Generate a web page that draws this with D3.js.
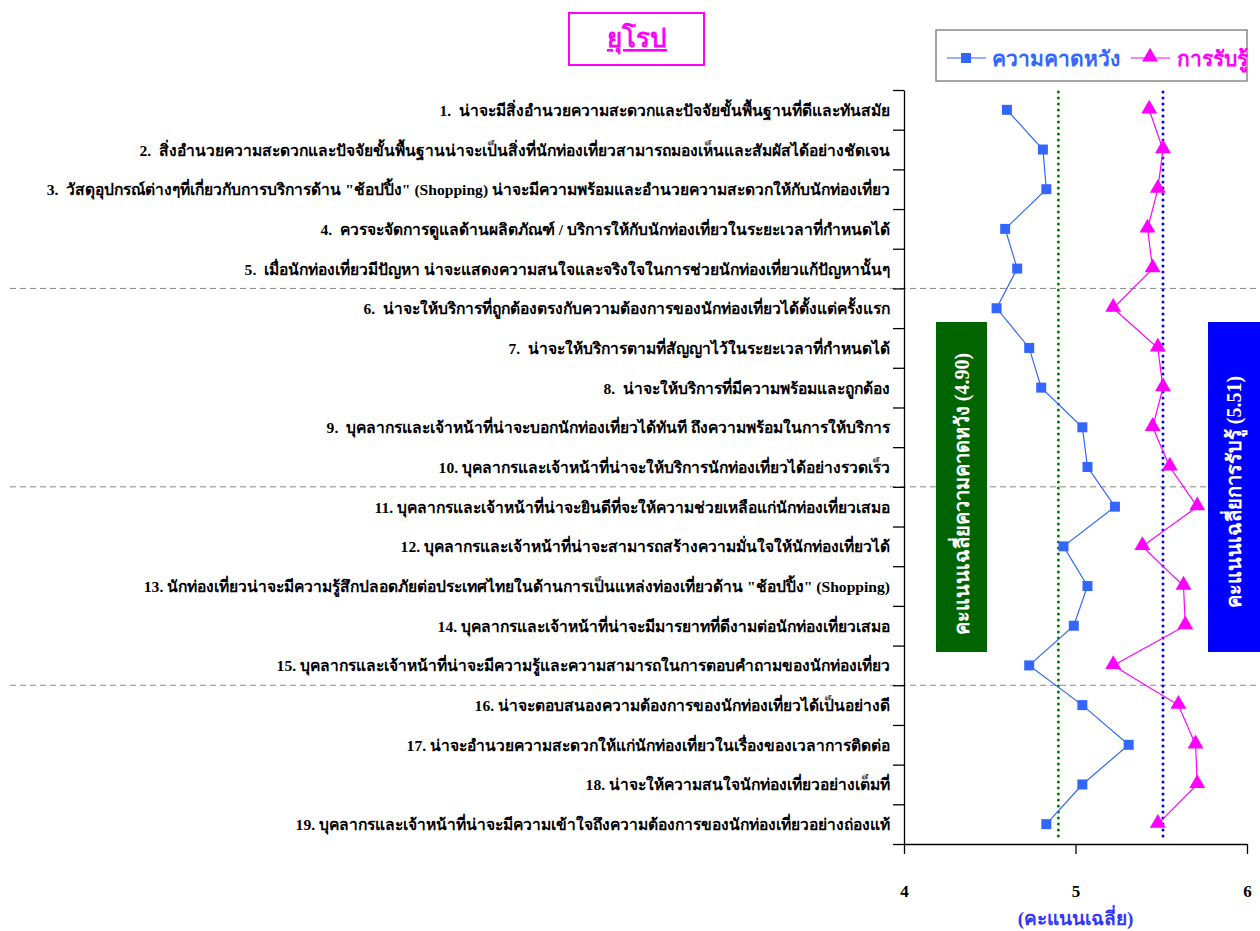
<!DOCTYPE html>
<html>
<head>
<meta charset="utf-8">
<script src="https://cdn.jsdelivr.net/npm/d3@7"></script>
<style>
  html, body { margin: 0; padding: 0; background: #fff; }
  svg text { font-family: "Liberation Serif", "DejaVu Serif", serif; }
</style>
</head>
<body>
<svg id="chart" width="1260" height="931"></svg>
<script>
const categories = [
  "1.  น่าจะมีสิ่งอำนวยความสะดวกและปัจจัยขั้นพื้นฐานที่ดีและทันสมัย",
  "2.  สิ่งอำนวยความสะดวกและปัจจัยขั้นพื้นฐานน่าจะเป็นสิ่งที่นักท่องเที่ยวสามารถมองเห็นและสัมผัสได้อย่างชัดเจน",
  "3.  วัสดุอุปกรณ์ต่างๆที่เกี่ยวกับการบริการด้าน \"ช้อปปิ้ง\" (Shopping) น่าจะมีความพร้อมและอำนวยความสะดวกให้กับนักท่องเที่ยว",
  "4.  ควรจะจัดการดูแลด้านผลิตภัณฑ์ / บริการให้กับนักท่องเที่ยวในระยะเวลาที่กำหนดได้",
  "5.  เมื่อนักท่องเที่ยวมีปัญหา น่าจะแสดงความสนใจและจริงใจในการช่วยนักท่องเที่ยวแก้ปัญหานั้นๆ",
  "6.  น่าจะให้บริการที่ถูกต้องตรงกับความต้องการของนักท่องเที่ยวได้ตั้งแต่ครั้งแรก",
  "7.  น่าจะให้บริการตามที่สัญญาไว้ในระยะเวลาที่กำหนดได้",
  "8.  น่าจะให้บริการที่มีความพร้อมและถูกต้อง",
  "9.  บุคลากรและเจ้าหน้าที่น่าจะบอกนักท่องเที่ยวได้ทันที ถึงความพร้อมในการให้บริการ",
  "10. บุคลากรและเจ้าหน้าที่น่าจะให้บริการนักท่องเที่ยวได้อย่างรวดเร็ว",
  "11. บุคลากรและเจ้าหน้าที่น่าจะยินดีที่จะให้ความช่วยเหลือแก่นักท่องเที่ยวเสมอ",
  "12. บุคลากรและเจ้าหน้าที่น่าจะสามารถสร้างความมั่นใจให้นักท่องเที่ยวได้",
  "13. นักท่องเที่ยวน่าจะมีความรู้สึกปลอดภัยต่อประเทศไทยในด้านการเป็นแหล่งท่องเที่ยวด้าน \"ช้อปปิ้ง\" (Shopping)",
  "14. บุคลากรและเจ้าหน้าที่น่าจะมีมารยาทที่ดีงามต่อนักท่องเที่ยวเสมอ",
  "15. บุคลากรและเจ้าหน้าที่น่าจะมีความรู้และความสามารถในการตอบคำถามของนักท่องเที่ยว",
  "16. น่าจะตอบสนองความต้องการของนักท่องเที่ยวได้เป็นอย่างดี",
  "17. น่าจะอำนวยความสะดวกให้แก่นักท่องเที่ยวในเรื่องของเวลาการติดต่อ",
  "18. น่าจะให้ความสนใจนักท่องเที่ยวอย่างเต็มที่",
  "19. บุคลากรและเจ้าหน้าที่น่าจะมีความเข้าใจถึงความต้องการของนักท่องเที่ยวอย่างถ่องแท้"
];
const expectation = [4.60, 4.81, 4.83, 4.59, 4.66, 4.54, 4.73, 4.80, 5.04, 5.07,
                     5.23, 4.93, 5.07, 4.99, 4.73, 5.04, 5.31, 5.04, 4.83];
const perception  = [5.43, 5.51, 5.48, 5.42, 5.45, 5.22, 5.48, 5.51, 5.45, 5.55,
                     5.71, 5.39, 5.63, 5.64, 5.22, 5.60, 5.70, 5.71, 5.48];
const xTicks = [4, 5, 6];
const groupBreaks = [5, 10, 15];
const meanValues = [4.90, 5.51];
const seriesNames = ["ความคาดหวัง", "การรับรู้"];
const meanLabels = ["คะแนนเฉลี่ยความคาดหวัง (4.90)", "คะแนนเฉลี่ยการรับรู้ (5.51)"];
const titleText = "ยุโรป";
const xTitle = "(คะแนนเฉลี่ย)";

const BLUE = "#3366ff", MAGENTA = "#ff00ff";
const svg = d3.select("#chart");

const x = d3.scaleLinear().domain([4, 6]).range([904, 1247]);
const y = d3.scaleBand().domain(d3.range(categories.length)).range([90, 844]);
const yLin = d3.scaleLinear().domain([0, categories.length]).range([90, 844]);
const yc = i => y(i) + y.bandwidth() / 2;

// group separators
svg.append("g").selectAll("line").data(groupBreaks).join("line")
  .attr("x1", 10).attr("x2", 1260)
  .attr("y1", d => yLin(d)).attr("y2", d => yLin(d))
  .attr("stroke", "#888").attr("stroke-width", 1).attr("stroke-dasharray", "6,4");

// y axis (ticks at band boundaries)
const yAxis = svg.append("g").attr("transform", "translate(904,0)")
  .call(d3.axisLeft(yLin).tickValues(d3.range(categories.length + 1)).tickSize(11).tickSizeOuter(0).tickFormat(""));
yAxis.select(".domain").attr("stroke", "#000").attr("stroke-width", 1.3);
yAxis.selectAll(".tick line").attr("stroke", "#000").attr("stroke-width", 1.3);

// x axis
const xAxis = svg.append("g").attr("transform", "translate(0,844)")
  .call(d3.axisBottom(x).tickValues(xTicks).tickSize(10).tickSizeOuter(0).tickFormat(d3.format("d")));
xAxis.select(".domain").attr("stroke", "#000").attr("stroke-width", 1.3);
xAxis.selectAll(".tick line").attr("stroke", "#000").attr("stroke-width", 1.3);
xAxis.selectAll(".tick text").attr("y", 53).attr("dy", 0)
  .attr("font-size", 17).attr("font-weight", "bold").attr("fill", "#000")
  .style("font-family", "'Liberation Serif', serif");

// x title
svg.append("text").attr("x", x(5)).attr("y", 925).attr("text-anchor", "middle")
  .attr("font-size", 19).attr("font-weight", "bold").attr("fill", "#3333ff").text(xTitle);

// category labels
svg.append("g").selectAll("text").data(categories).join("text")
  .attr("x", 890).attr("y", (d, i) => yc(i) + 6)
  .attr("text-anchor", "end").attr("font-size", 15.6).attr("font-weight", "bold")
  .attr("fill", "#000").style("white-space", "pre").text(d => d);

// mean reference lines
const meanColors = ["#008000", "#0000ff"];
svg.append("g").selectAll("line").data(meanValues).join("line")
  .attr("x1", d => x(d)).attr("x2", d => x(d))
  .attr("y1", 92).attr("y2", 840)
  .attr("stroke", (d, i) => meanColors[i]).attr("stroke-width", 3)
  .attr("stroke-dasharray", "0,6").attr("stroke-linecap", "round");

// mean label boxes
const boxX = [936, 1208], boxW = [51, 52], boxFill = ["#006400", "#0000ff"];
const labelCY = [494, 492];
meanLabels.forEach((t, i) => {
  svg.append("rect").attr("x", boxX[i]).attr("y", 322).attr("width", boxW[i]).attr("height", 330)
    .attr("fill", boxFill[i]);
  const cx = boxX[i] + boxW[i] / 2 + 7;
  svg.append("text").attr("transform", `translate(${cx},${labelCY[i]}) rotate(-90)`)
    .attr("text-anchor", "middle").attr("font-size", 20).attr("font-weight", "bold")
    .attr("fill", "#fff").text(t);
});

// series lines
const line = d3.line().x(d => x(d.v)).y(d => yc(d.i));
const toPts = arr => arr.map((v, i) => ({ v, i }));
svg.append("path").datum(toPts(expectation)).attr("d", line)
  .attr("fill", "none").attr("stroke", BLUE).attr("stroke-width", 1.2);
svg.append("path").datum(toPts(perception)).attr("d", line)
  .attr("fill", "none").attr("stroke", MAGENTA).attr("stroke-width", 1.2);

const sq = d3.symbol().type(d3.symbolSquare).size(100);
const tri = d3.symbol().type(d3.symbolTriangle).size(110);
svg.append("g").selectAll("path").data(toPts(expectation)).join("path")
  .attr("transform", d => `translate(${x(d.v)},${yc(d.i)})`).attr("d", sq).attr("fill", BLUE);
svg.append("g").selectAll("path").data(toPts(perception)).join("path")
  .attr("transform", d => `translate(${x(d.v)},${yc(d.i) - 1})`).attr("d", tri).attr("fill", MAGENTA);

// title box
svg.append("rect").attr("x", 569).attr("y", 13).attr("width", 135).attr("height", 52)
  .attr("fill", "#fff").attr("stroke", MAGENTA).attr("stroke-width", 2);
svg.append("text").attr("x", 637).attr("y", 47).attr("text-anchor", "middle")
  .attr("font-size", 26).attr("font-weight", "bold").attr("fill", MAGENTA)
  .attr("text-decoration", "underline").text(titleText);

// legend
const lg = svg.append("g");
lg.append("rect").attr("x", 936).attr("y", 30).attr("width", 311).attr("height", 51)
  .attr("fill", "#fff").attr("stroke", "#888").attr("stroke-width", 1.5);
const legX = [947, 1131], legTextX = [992, 1177], legColors = [BLUE, MAGENTA];
[sq, tri].forEach((sym, i) => {
  lg.append("line").attr("x1", legX[i]).attr("x2", legX[i] + 39).attr("y1", 58).attr("y2", 58)
    .attr("stroke", legColors[i]).attr("stroke-width", 1.2);
  lg.append("path").attr("transform", `translate(${legX[i] + 19},${i ? 57 : 58})`)
    .attr("d", sym).attr("fill", legColors[i]);
  lg.append("text").attr("x", legTextX[i]).attr("y", 66).attr("font-size", 21)
    .attr("font-weight", "bold").attr("fill", legColors[i]).text(seriesNames[i]);
});
</script>
</body>
</html>
